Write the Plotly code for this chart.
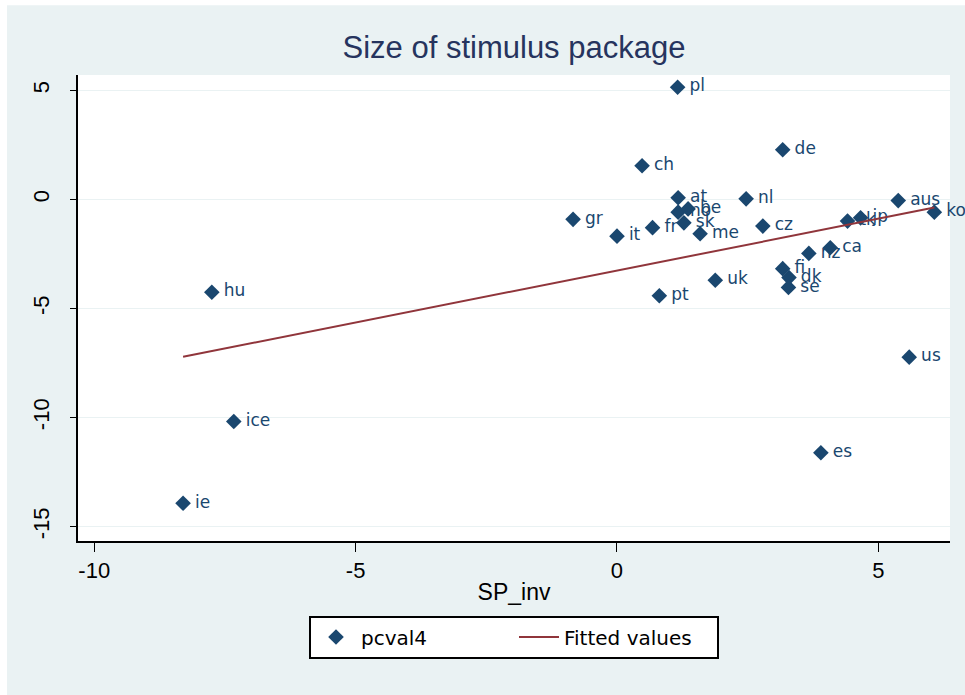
import plotly.graph_objects as go

# ---- data ----
countries = ["pl", "de", "ch", "at", "nl", "aus", "ko", "gr", "no", "be", "sk", "me",
             "fr", "it", "cz", "tk", "jp", "nz", "ca", "fi", "dk", "se", "uk", "pt",
             "hu", "us", "es", "ice", "ie"]
sp_inv = [1.16, 3.17, 0.48, 1.17, 2.47, 5.38, 6.07, -0.84, 1.17, 1.36, 1.28, 1.59,
          0.68, 0.00, 2.79, 4.41, 4.66, 3.67, 4.08, 3.17, 3.29, 3.28, 1.88, 0.81,
          -7.75, 5.59, 3.90, -7.33, -8.30]
pcval4 = [5.15, 2.28, 1.55, 0.08, 0.03, -0.05, -0.58, -0.91, -0.58, -0.43, -1.07, -1.57,
          -1.29, -1.68, -1.22, -0.99, -0.84, -2.47, -2.21, -3.17, -3.58, -4.03, -3.70, -4.41,
          -4.25, -7.23, -11.61, -10.18, -13.93]
fit_x = [-8.30, 6.07]
fit_y = [-7.21, -0.37]

x_ticks = [-10, -5, 0, 5]
x_ticktext = ["-10", "-5", "0", "5"]
y_ticks = [-15, -10, -5, 0, 5]
y_ticktext = ["-15", "-10", "-5", "0", "5"]

NAVY = "#1A476F"
MAROON = "#90353B"
BG = "#EAF2F3"
TICKFONT = "Liberation Sans Narrow, Liberation Sans"

fig = go.Figure()
fig.add_trace(go.Scatter(
    x=sp_inv, y=pcval4, mode="markers+text", name="pcval4",
    text=["\u2009" + c for c in countries], textposition="middle right",
    textfont=dict(family="DejaVu Sans", size=17, color=NAVY),
    marker=dict(symbol="diamond", size=12, color=NAVY),
    cliponaxis=False,
))
fig.add_trace(go.Scatter(
    x=fit_x, y=fit_y, mode="lines", name="Fitted values",
    line=dict(color=MAROON, width=2),
))

fig.update_layout(
    width=965, height=695,
    margin=dict(l=78, r=15, t=75, b=154),
    paper_bgcolor=BG, plot_bgcolor="white",
    title=dict(text="Size of stimulus package", xref="paper", x=0.5, xanchor="center",
               y=0.932, yanchor="middle",
               font=dict(family="Liberation Sans", size=31, color="#26345E")),
    showlegend=True,
    legend=dict(orientation="h", x=0.5, xanchor="center", y=-0.16, yanchor="top",
                bgcolor="white", bordercolor="black", borderwidth=2,
                font=dict(family="DejaVu Sans", size=20, color="black"),
                entrywidth=148, entrywidthmode="pixels", itemwidth=40),
    xaxis=dict(range=[-10.31, 6.37], tickvals=x_ticks, ticktext=x_ticktext,
               ticks="outside", ticklen=9,
               tickcolor="black", showline=True, linecolor="black", linewidth=1.5,
               showgrid=False, zeroline=False,
               tickfont=dict(family=TICKFONT, size=22, color="black"),
               title=dict(text="SP_inv", standoff=2,
                          font=dict(family=TICKFONT, size=23, color="black"))),
    yaxis=dict(range=[-15.66, 5.71], tickvals=y_ticks, ticktext=y_ticktext,
               ticks="outside", ticklen=6,
               tickcolor="black", showline=True, linecolor="black", linewidth=1.5,
               showgrid=True, gridcolor=BG, gridwidth=1, zeroline=False,
               tickangle=-90, ticklabelstandoff=12,
               tickfont=dict(family=TICKFONT, size=22, color="black")),
    shapes=[
        dict(type="rect", xref="paper", yref="paper", x0=-0.1, x1=-0.0814, y0=-0.4, y1=1.2,
             fillcolor="white", line=dict(width=0), layer="below"),
        dict(type="rect", xref="paper", yref="paper", x0=-0.1, x1=1.1, y0=1.1496, y1=1.2,
             fillcolor="white", line=dict(width=0), layer="below"),
    ],
)

fig.write_html("out.html")
